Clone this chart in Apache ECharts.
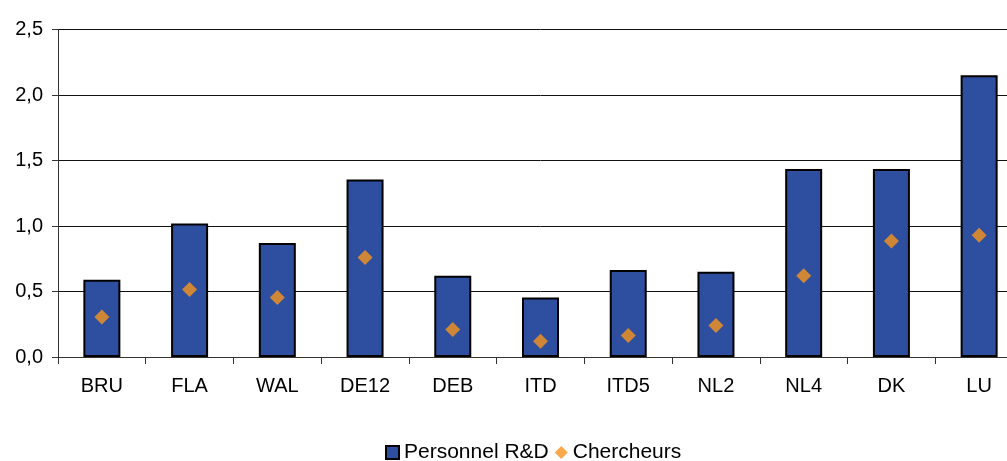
<!DOCTYPE html>
<html>
<head>
<meta charset="utf-8">
<script src="https://cdn.jsdelivr.net/npm/echarts@6/dist/echarts.min.js"></script>
<style>
html,body{margin:0;padding:0;background:#fff;overflow:hidden;}
#chart{width:1023px;height:461px;}
</style>
</head>
<body>
<div id="chart"></div>
<script>
var regions = ["BRU","FLA","WAL","DE12","DEB","ITD","ITD5","NL2","NL4","DK","LU"];
var personnelRD = [0.59,1.02,0.87,1.355,0.62,0.455,0.665,0.65,1.435,1.435,2.15];
var chercheurs = [0.305,0.515,0.455,0.76,0.21,0.12,0.165,0.24,0.62,0.885,0.93];
var yTicks = [0,0.5,1,1.5,2,2.5];

// plot runs past the right edge in the original, so the canvas is a bit wider than the window
var myChart = echarts.init(document.getElementById("chart"));

var option = {
    animation:false,
    textStyle:{fontFamily:"Liberation Sans, Arial, sans-serif"},
    grid:{left:58,top:29.5,right:0,bottom:104,containLabel:false},
    legend:{
        top:437,
        left:380,
        itemGap:6,
        itemWidth:13,
        itemHeight:13,
        textStyle:{fontSize:21,color:"#000",fontFamily:"Liberation Sans, Arial, sans-serif"},
        data:[
            {name:"Personnel R&D",icon:"rect"},
            {name:"Chercheurs",icon:"diamond"}
        ]
    },
    xAxis:{
        type:"category",
        data:regions,
        axisLine:{lineStyle:{color:"#333",width:1}},
        axisTick:{show:true,length:7,lineStyle:{color:"#333"}},
        axisLabel:{color:"#000",fontSize:20,margin:19}
    },
    yAxis:{
        type:"value",
        min:yTicks[0],
        max:yTicks[yTicks.length-1],
        interval:0.5,
        axisLine:{show:true,lineStyle:{color:"#333",width:1}},
        axisTick:{show:true,length:6,lineStyle:{color:"#333"}},
        splitLine:{lineStyle:{color:"#111",width:1}},
        axisLabel:{
            color:"#000",
            fontSize:20,
            margin:15,
            formatter:function(v){return v.toFixed(1).replace(".",",");}
        }
    },
    series:[
        {
            name:"Personnel R&D",
            type:"bar",
            data:personnelRD,
            barWidth:37,
            itemStyle:{color:"#2E4F9F",borderColor:"#000",borderWidth:2}
        },
        {
            name:"Chercheurs",
            type:"scatter",
            data:chercheurs,
            symbol:"diamond",
            symbolSize:15,
            itemStyle:{color:"#F7941D"},
            z:3
        }
    ]
};

myChart.setOption(option);
</script>
</body>
</html>
